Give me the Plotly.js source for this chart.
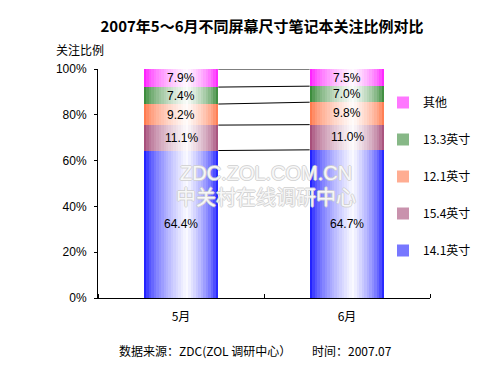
<!DOCTYPE html>
<html>
<head>
<meta charset="utf-8">
<script src="https://cdn.plot.ly/plotly-3.0.1.min.js"></script>
<style>html,body{margin:0;padding:0;background:#fff;}#chart{width:500px;height:375px;}</style>
</head>
<body>
<div id="chart"></div>
<script>
// ---- data ----
var categories = ['5月', '6月'];
var seriesNames = ['14.1英寸', '15.4英寸', '12.1英寸', '13.3英寸', '其他'];
var v141 = [64.4, 64.7];
var v154 = [11.1, 11.0];
var v121 = [9.2, 9.8];
var v133 = [7.4, 7.0];
var vOther = [7.9, 7.5];
var yTickVals = [0, 20, 40, 60, 80, 100];
var yTickText = yTickVals.map(function (v) { return v + '%'; });

// ---- styles ----
var seriesValues = [v141, v154, v121, v133, vOther];
var baseColors = [[0,0,255],[153,51,102],[255,102,51],[30,122,30],[255,0,255]];
var FONT = 'Liberation Sans, Arial, Noto Sans CJK SC, sans-serif';
var CJK = 'Noto Sans CJK SC, Liberation Sans, sans-serif';
var barW = 0.45, N = 30, peak = 0.58;

function stripColor(c, t) {
  var f = t < peak ? t / peak : (1 - t) / (1 - peak);
  f = Math.pow(f, 0.55) * 0.98;
  var r = Math.round(c[0] + (255 - c[0]) * f);
  var g = Math.round(c[1] + (255 - c[1]) * f);
  var b = Math.round(c[2] + (255 - c[2]) * f);
  return 'rgb(' + r + ',' + g + ',' + b + ')';
}

var traces = [];
var catIdx = categories.map(function (c, i) { return i; });
seriesValues.forEach(function (vals, s) {
  for (var k = 0; k < N; k++) {
    var t = (k + 0.5) / N;
    traces.push({
      type: 'bar',
      x: catIdx.map(function (i) { return i - barW / 2 + t * barW; }),
      y: vals,
      width: barW / N * 1.05,
      name: seriesNames[s],
      legendgroup: seriesNames[s],
      legendrank: seriesValues.length - s,
      showlegend: k === 4,
      marker: { color: stripColor(baseColors[s], t), line: { width: 0 } },
      hoverinfo: 'skip'
    });
  }
});

// cumulative tops
var cum = categories.map(function (c, i) {
  var acc = 0, out = [];
  seriesValues.forEach(function (vals) { acc += vals[i]; out.push(acc); });
  return out;
});

// series lines between bars
for (var s = 0; s < seriesValues.length; s++) {
  traces.push({
    type: 'scatter', mode: 'lines',
    x: [0 + barW / 2, 1 - barW / 2],
    y: [cum[0][s], cum[1][s]],
    line: { color: '#000', width: 1 },
    showlegend: false, hoverinfo: 'skip'
  });
}

var annotations = [];
seriesValues.forEach(function (vals, s) {
  vals.forEach(function (v, i) {
    annotations.push({
      x: i, y: cum[i][s] - v / 2, xref: 'x', yref: 'y', xanchor: 'center', yanchor: 'middle',
      text: v.toFixed(1) + '%', showarrow: false,
      font: { family: FONT, size: 12, color: '#000' }
    });
  });
});

var wmShadow = '1px 0 #cfcfcf, -1px 0 #cfcfcf, 0 1px #cfcfcf, 0 -1px #cfcfcf';
annotations.push({
  xref: 'paper', yref: 'paper', x: 0.506, y: (298 - 173) / 229, xanchor: 'center', yanchor: 'middle',
  text: 'ZDC.ZOL.COM.CN', showarrow: false,
  font: { family: FONT, size: 20, color: 'rgba(255,255,255,0.85)', shadow: wmShadow }
});
annotations.push({
  xref: 'paper', yref: 'paper', x: 0.506, y: (298 - 196) / 229, xanchor: 'center', yanchor: 'middle',
  text: '中关村在线调研中心', showarrow: false,
  font: { family: CJK, size: 20, color: 'rgba(255,255,255,0.85)', shadow: wmShadow }
});
annotations.push({
  xref: 'paper', yref: 'paper', x: (80 - 98) / 332, y: (298 - 50) / 229, xanchor: 'center', yanchor: 'middle',
  text: '关注比例', showarrow: false,
  font: { family: CJK, size: 12, color: '#000' }
});
annotations.push({
  xref: 'paper', yref: 'paper', x: (205 - 98) / 332, y: (298 - 350) / 229, xanchor: 'center', yanchor: 'middle',
  text: '数据来源：ZDC(ZOL 调研中心）', showarrow: false,
  font: { family: CJK, size: 12, color: '#000' }
});
annotations.push({
  xref: 'paper', yref: 'paper', x: (352 - 98) / 332, y: (298 - 350) / 229, xanchor: 'center', yanchor: 'middle',
  text: '时间：2007.07', showarrow: false,
  font: { family: CJK, size: 12, color: '#000' }
});

var layout = {
  width: 500, height: 375,
  margin: { l: 98, r: 70, t: 69, b: 77, pad: 0, autoexpand: false },
  paper_bgcolor: '#fff', plot_bgcolor: '#fff',
  barmode: 'stack', bargap: 0,
  title: {
    text: '2007年5～6月不同屏幕尺寸笔记本关注比例对比',
    x: 0.524, xanchor: 'center', y: 1 - 27 / 375, yanchor: 'middle',
    font: { family: CJK, size: 15, color: '#000', weight: 'bold' }
  },
  xaxis: {
    range: [-0.5, 1.5], tickmode: 'array', tickvals: catIdx, ticktext: categories,
    ticks: '', showgrid: false, zeroline: false,
    showline: true, linecolor: '#000', linewidth: 1,
    ticklabelstandoff: 8,
    tickfont: { family: CJK, size: 12, color: '#000' },
    minor: { tickmode: 'array', tickvals: [-0.5, 0.5, 1.5], ticks: 'inside', ticklen: 4, tickcolor: '#000', showgrid: false }
  },
  yaxis: {
    range: [0, 100], tickmode: 'array', tickvals: yTickVals, ticktext: yTickText,
    ticks: 'outside', ticklen: 3, tickcolor: '#000', ticklabelstandoff: 5,
    showgrid: false, zeroline: false, showline: true, linecolor: '#000', linewidth: 1,
    tickfont: { family: FONT, size: 12, color: '#000' }
  },
  legend: {
    xref: 'container', yref: 'container', x: 383 / 500, y: 1 - 88 / 375,
    xanchor: 'left', yanchor: 'top', traceorder: 'grouped',
    tracegroupgap: 18, bgcolor: 'rgba(0,0,0,0)',
    font: { family: CJK, size: 12, color: '#000' }
  },
  annotations: annotations,
  showlegend: true
};

Plotly.newPlot('chart', traces, layout, { staticPlot: true, displayModeBar: false });
</script>
</body>
</html>
